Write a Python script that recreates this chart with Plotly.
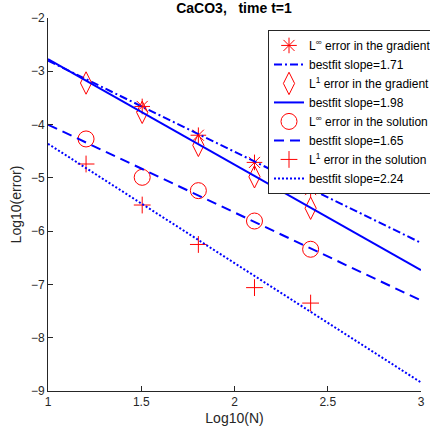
import plotly.graph_objects as go

# Data
log_n = [1.2041, 1.5051, 1.8062, 2.1072, 2.4082]
linf_grad = [None, -3.66, -4.20, -4.71, -5.22]
l1_grad = [-3.22, -3.77, -4.39, -4.98, -5.57]
linf_sol = [-4.27, -4.99, -5.24, -5.81, -6.34]
l1_sol = [-4.74, -5.51, -6.25, -7.06, -7.35]

fit_x = [1, 3]
fit_linf_grad = [-2.80, -6.22]
fit_l1_grad = [-2.77, -6.73]
fit_linf_sol = [-4.00, -7.30]
fit_l1_sol = [-4.36, -8.84]

slopes = ["1.71", "1.98", "1.65", "2.24"]
names = ["L<sup>∞</sup> error in the gradient", "L<sup>1</sup> error in the gradient",
         "L<sup>∞</sup> error in the solution", "L<sup>1</sup> error in the solution"]

xticks = [1, 1.5, 2, 2.5, 3]
xticklabels = ["1", "1.5", "2", "2.5", "3"]
yticks = [-2, -3, -4, -5, -6, -7, -8, -9]

RED = "rgb(255,0,0)"
BLUE = "rgb(0,0,255)"

series = [
    (linf_grad, fit_linf_grad, "asterisk-open", 13, "8px,3px,2px,3px"),
    (l1_grad, fit_l1_grad, "diamond-tall-open", 16, "solid"),
    (linf_sol, fit_linf_sol, "circle-open", 16, "10px,6px"),
    (l1_sol, fit_l1_sol, "cross-thin-open", 12, "2px,2px"),
]

fig = go.Figure()
for (vals, fit, sym, size, dash), name, s in zip(series, names, slopes):
    fig.add_trace(go.Scatter(
        x=log_n, y=vals, mode="markers", name=name,
        marker=dict(symbol=sym, size=size, color=RED,
                    line=dict(color=RED, width=1)),
    ))
    fig.add_trace(go.Scatter(
        x=fit_x, y=fit, mode="lines", name="bestfit slope=" + s,
        line=dict(color=BLUE, width=2, dash=dash),
    ))

FONT = "Liberation Sans, Arial, sans-serif"
axis_common = dict(
    showgrid=False, zeroline=False, showline=True, linecolor="#262626",
    linewidth=1, ticks="inside", ticklen=5, tickcolor="#262626",
    tickfont=dict(family=FONT, size=12, color="#262626"),
    mirror=False, automargin=False,
)

# Figure is a bit wider than the window so the legend runs off the right edge,
# as in the reference; the plot area itself ends at x=421.
W, H = 460, 434
fig.update_layout(
    width=W, height=H,
    margin=dict(l=48, r=W - 421, t=18, b=43, autoexpand=False),
    plot_bgcolor="white", paper_bgcolor="white",
    font=dict(family=FONT, size=12, color="#262626"),
    title=dict(text="<b>CaCO3,\u00a0\u00a0\u00a0time t=1</b>", x=234 / W, xref="container",
               y=1 - 8 / H, yref="container", yanchor="middle", xanchor="center",
               font=dict(family=FONT, size=14, color="black")),
    xaxis=dict(range=[1, 3], tickvals=xticks, ticktext=xticklabels,
               title=dict(text="Log10(N)", standoff=4), **axis_common),
    yaxis=dict(range=[-9, -2], tickvals=yticks,
               title=dict(text="Log10(error)", standoff=6), **axis_common),
    legend=dict(x=(268 - 48) / 373, y=0.968, xanchor="left", yanchor="top",
                bgcolor="white", bordercolor="#262626", borderwidth=1,
                font=dict(family=FONT, size=12, color="black"), itemwidth=30,
                tracegroupgap=0),
    showlegend=True,
)

fig.write_html(
    "out.html",
    config={"displayModeBar": False},
    post_script="document.body.style.margin='0';document.body.style.overflow='hidden';"
                "document.documentElement.style.overflow='hidden';",
)
